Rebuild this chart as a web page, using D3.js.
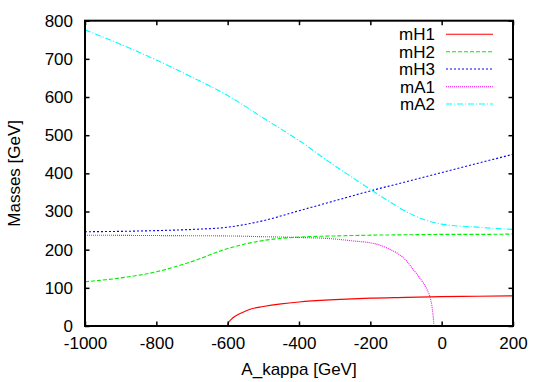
<!DOCTYPE html>
<html><head><meta charset="utf-8">
<script src="https://cdn.jsdelivr.net/npm/d3@7"></script>
<style>
html,body{margin:0;padding:0;background:#fff;}
text{font-family:"Liberation Sans",Arial,Helvetica,sans-serif;fill:#000;}
</style></head>
<body>
<svg id="chart" width="545" height="382"></svg>
<script>
// ---- data ----
const xTicks = [-1000, -800, -600, -400, -200, 0, 200];
const yTicks = [0, 100, 200, 300, 400, 500, 600, 700, 800];

const mH1_x = [-600, -599, -597, -594, -590, -580, -560, -537, -500, -450, -400, -300, -200, -100, 0, 100, 200];
const mH1_y = [0, 6, 10, 13.5, 17.5, 25, 35, 44, 51, 58, 63, 69, 73, 75, 77, 78, 79];

const mH2_x = [-1000, -900, -800, -700, -600, -500, -400, -300, -200, -100, 0, 100, 200];
const mH2_y = [116, 126, 142, 169, 203, 224, 233, 236, 238, 239, 240, 240, 241];

const mH3_x = [-1000, -900, -800, -700, -600, -500, -400, -300, -200, -100, 0, 100, 200];
const mH3_y = [247, 248, 250, 253, 259, 276, 302, 328, 354, 378, 402, 426, 450];

const mA1_x = [-1000, -800, -600, -500, -400, -300, -250, -200, -173, -150, -117, -100, -79, -60, -51, -40, -33, -28, -25, -23, -22];
const mA1_y = [238, 237, 236, 234, 232, 228, 223, 218, 212, 203, 186, 172, 147, 124, 112, 93, 77, 56, 36, 17, 6];

const mA2_x = [-1000, -900, -800, -700, -600, -500, -400, -300, -250, -200, -150, -100, -50, 0, 100, 200];
const mA2_y = [776, 738, 697, 652, 604, 545, 486, 420, 389, 358, 328, 300, 279, 267, 259, 253];

const seriesNames = ["mH1", "mH2", "mH3", "mA1", "mA2"];
const seriesX = [mH1_x, mH2_x, mH3_x, mA1_x, mA2_x];
const seriesY = [mH1_y, mH2_y, mH3_y, mA1_y, mA2_y];
const seriesColors = ["#ff0000", "#00ee00", "#0000ff", "#ff00ff", "#00ffff"];
const seriesDash = [null, "4,2", "2,2", "1,1", "6,2,1,2"];

// ---- layout ----
const L = 85, R = 513, T = 20.7, B = 326;
const svg = d3.select("#chart");
const x = d3.scaleLinear().domain([-1000, 200]).range([L, R]);
const y = d3.scaleLinear().domain([0, 800]).range([B, T]);
const FS = 17;

svg.append("clipPath").attr("id", "clip").append("rect")
  .attr("x", L).attr("y", T).attr("width", R - L).attr("height", B - T);

const line = d3.line().x(d => x(d[0])).y(d => y(d[1])).curve(d3.curveMonotoneX);
const gLines = svg.append("g").attr("clip-path", "url(#clip)");
seriesNames.forEach((n, i) => {
  const pts = seriesX[i].map((v, j) => [v, seriesY[i][j]]);
  gLines.append("path").datum(pts)
    .attr("d", line)
    .attr("fill", "none")
    .attr("stroke", seriesColors[i])
    .attr("stroke-width", 1.1)
    .attr("stroke-dasharray", seriesDash[i]);
});

const fmt = d => String(d);
const tk = 4.5;
const axB = svg.append("g").attr("transform", `translate(0,${B})`)
  .call(d3.axisBottom(x).tickValues(xTicks).tickSize(-tk).tickPadding(11).tickFormat(fmt));
const axT = svg.append("g").attr("transform", `translate(0,${T})`)
  .call(d3.axisTop(x).tickValues(xTicks).tickSize(-tk).tickFormat(""));
const axL = svg.append("g").attr("transform", `translate(${L},0)`)
  .call(d3.axisLeft(y).tickValues(yTicks).tickSize(-tk).tickPadding(12).tickFormat(fmt));
const axR = svg.append("g").attr("transform", `translate(${R},0)`)
  .call(d3.axisRight(y).tickValues(yTicks).tickSize(-tk).tickFormat(""));
[axB, axT, axL, axR].forEach(a => {
  a.select(".domain").remove();
  a.selectAll(".tick line").attr("stroke", "#000").attr("stroke-width", 1.5);
  a.selectAll("text").attr("font-size", FS).attr("font-family", "Liberation Sans, Arial, sans-serif").attr("fill", "#000");
});

svg.append("rect").attr("x", L).attr("y", T).attr("width", R - L).attr("height", B - T)
  .attr("fill", "none").attr("stroke", "#000").attr("stroke-width", 2);

svg.append("text").attr("x", (L + R) / 2).attr("y", 375).attr("text-anchor", "middle")
  .attr("font-size", FS).text("A_kappa [GeV]");
svg.append("text").attr("transform", `translate(20,${(T + B) / 2}) rotate(-90)`)
  .attr("text-anchor", "middle").attr("font-size", FS).text("Masses [GeV]");

const legY = [34.3, 51.7, 69, 86.7, 104];
seriesNames.forEach((n, i) => {
  svg.append("text").attr("x", 435).attr("y", legY[i] + 6).attr("text-anchor", "end")
    .attr("font-size", FS).text(n);
  svg.append("line").attr("x1", 446).attr("x2", 493).attr("y1", legY[i]).attr("y2", legY[i])
    .attr("stroke", seriesColors[i]).attr("stroke-width", 1.1).attr("stroke-dasharray", seriesDash[i]);
});
</script>
</body></html>
